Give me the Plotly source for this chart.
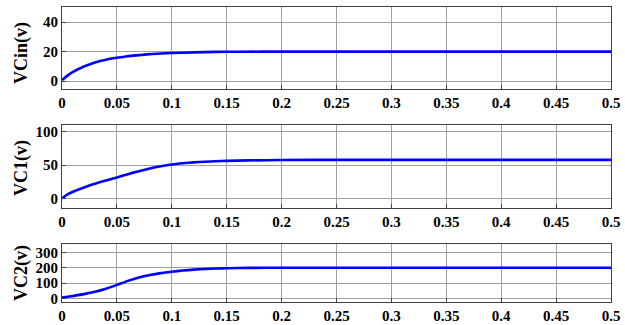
import plotly.graph_objects as go

# time axis (s) and values
t_in = [0, 0.005, 0.01, 0.02, 0.03, 0.04, 0.05, 0.06, 0.07, 0.08, 0.09, 0.1, 0.12, 0.14, 0.16, 0.2, 0.3, 0.4, 0.5]
vcin = [0.7, 3.7, 6.2, 9.9, 12.6, 14.5, 15.8, 16.9, 17.6, 18.3, 18.7, 19.0, 19.5, 19.8, 19.9, 20, 20, 20, 20]

t_c1 = [0, 0.005, 0.01, 0.02, 0.03, 0.04, 0.05, 0.06, 0.07, 0.08, 0.09, 0.1, 0.11, 0.12, 0.13, 0.14, 0.15, 0.17, 0.2, 0.25, 0.5]
vc1 = [0, 6, 10, 16.5, 22, 27, 31.5, 36.5, 41, 45, 48.3, 51, 52.8, 54.2, 55.2, 56, 56.5, 57.2, 57.7, 58, 58]

t_c2 = [0, 0.01, 0.02, 0.03, 0.04, 0.05, 0.06, 0.07, 0.08, 0.09, 0.1, 0.11, 0.12, 0.13, 0.14, 0.15, 0.17, 0.2, 0.5]
vc2 = [6, 17, 29, 44, 64, 89, 115, 137, 153, 165, 174, 182, 188, 192, 195, 197, 199, 200, 200]

x_ticks = [0, 0.05, 0.1, 0.15, 0.2, 0.25, 0.3, 0.35, 0.4, 0.45, 0.5]
x_ticklabels = ["0", "0.05", "0.1", "0.15", "0.2", "0.25", "0.3", "0.35", "0.4", "0.45", "0.5"]
y1_ticks = [0, 20, 40]
y2_ticks = [0, 50, 100]
y3_ticks = [0, 100, 200, 300]
titles = ["VCin(v)", "VC1(v)", "VC2(v)"]

W, H = 625, 325
FONT = "Liberation Serif"

fig = go.Figure()
series = [(t_in, vcin), (t_c1, vc1), (t_c2, vc2)]
for i, (tx, ty) in enumerate(series):
    sfx = "" if i == 0 else str(i + 1)
    fig.add_trace(go.Scatter(x=tx, y=ty, mode="lines", line=dict(color="#0000ff", width=2.6, shape="spline", smoothing=0.6),
                             xaxis="x" + sfx, yaxis="y" + sfx, showlegend=False))

# panel pixel bounds (top, bottom)
panels = [(7.3, 88.5), (125.3, 207.7), (244.3, 301.7)]
yranges = [[-5, 50], [-14, 110], [-20, 352]]
yticks = [y1_ticks, y2_ticks, y3_ticks]
title_y = [53, 168, 273]

tickfont = dict(family=FONT, size=15, color="black", weight="bold")
layout = dict(width=W, height=H, margin=dict(l=62, r=14, t=0, b=0, autoexpand=False),
              plot_bgcolor="white", paper_bgcolor="white", showlegend=False)
annotations = []
for i in range(3):
    sfx = "" if i == 0 else str(i + 1)
    top, bot = panels[i]
    layout["xaxis" + sfx] = dict(range=[0, 0.5], tickvals=x_ticks, ticktext=x_ticklabels,
                                 tickfont=tickfont, showgrid=True, gridcolor="#a0a0a0", gridwidth=1,
                                 showline=True, linecolor="#404040", linewidth=1, mirror=True,
                                 ticks="inside", ticklen=4, tickcolor="#404040", zeroline=False,
                                 automargin=False, anchor="y" + sfx, domain=[0, 1])
    layout["yaxis" + sfx] = dict(range=yranges[i], tickvals=yticks[i], tickfont=tickfont,
                                 showgrid=True, gridcolor="#a0a0a0", gridwidth=1,
                                 showline=True, linecolor="#404040", linewidth=1, mirror=True,
                                 ticks="inside", ticklen=4, tickcolor="#404040", zeroline=False,
                                 automargin=False, anchor="x" + sfx, domain=[1 - bot / H, 1 - top / H])
    annotations.append(dict(text=titles[i], xref="paper", yref="paper",
                            x=(21 - 62) / (W - 76), y=1 - title_y[i] / H,
                            xanchor="center", yanchor="middle", textangle=-90, showarrow=False,
                            font=dict(family=FONT, size=18, color="black", weight="bold")))
layout["annotations"] = annotations
fig.update_layout(**layout)
fig.write_html("out.html", config={"displayModeBar": False},
               post_script="document.body.style.margin='0';document.body.style.overflow='hidden';")
